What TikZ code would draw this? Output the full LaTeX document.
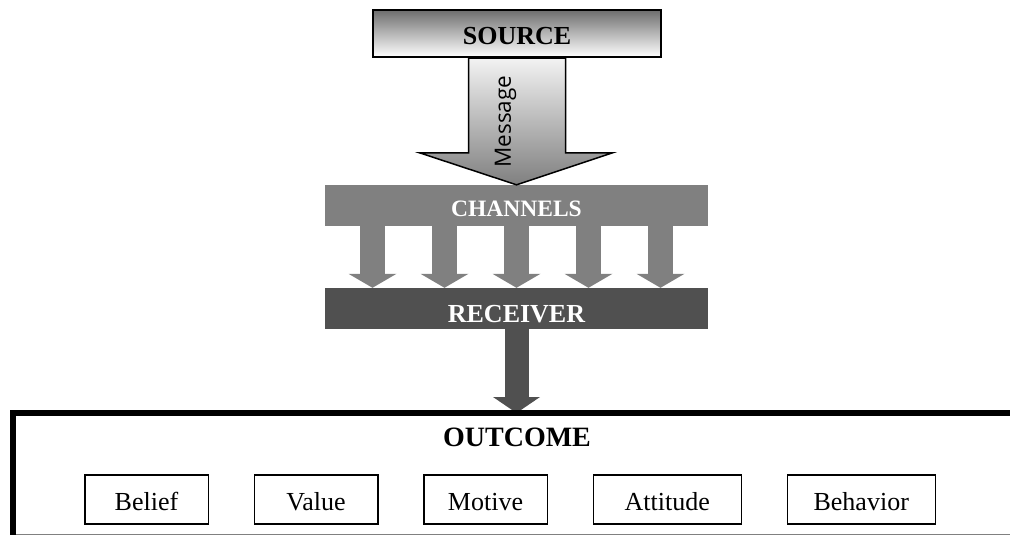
\documentclass[tikz,border=0pt]{standalone}
\usepackage{fontspec}
\setmainfont{Liberation Serif}
\newfontfamily\msgfont{Open Sans}
\usetikzlibrary{positioning, arrows.meta, calc}
\definecolor{srcgray}{HTML}{6E6E6E}
\definecolor{chgray}{HTML}{808080}
\definecolor{rcgray}{HTML}{505050}

\begin{document}
\begin{tikzpicture}[x=1pt, y=-1pt,
	stage/.style={rectangle, minimum width=383pt, minimum height=41pt, text=white, text depth=0pt},
	trait/.style={draw, line width=1.5pt, rectangle, minimum height=49pt, text height=22pt, text depth=0pt, font=\fontsize{26}{30}\selectfont},
	pipe/.style={line width=25pt, chgray, -{Triangle[length=14pt, width=48pt, line width=0pt]}}]
	\useasboundingbox (0,0) rectangle (1010,535);

	% Stages
	\node[draw, line width=2.5pt, rectangle, minimum width=288pt, minimum height=47pt, top color=srcgray, bottom color=white, text height=22pt, text depth=0pt, font=\fontsize{26}{30}\selectfont\bfseries] (source) at (517,33.5) {SOURCE};
	\node[stage, fill=chgray, text height=21pt, font=\fontsize{23.5}{28}\selectfont\bfseries] (channels) at (516.5,205.5) {CHANNELS};
	\node[stage, fill=rcgray, text height=27pt, font=\fontsize{26}{30}\selectfont\bfseries] (receiver) at (516.5,308.5) {RECEIVER};

	% Message arrow
	\draw[line width=1.5pt, top color=black!5, bottom color=black!50]
		([xshift=-48.5pt]source.south) |- ([xshift=-97pt, yshift=32pt]channels.north)
		-- (channels.north)
		-- ([xshift=96pt, yshift=32pt]channels.north) -| ([xshift=48.5pt]source.south) -- cycle;
	\node[rotate=90, font=\msgfont\fontsize{22.5}{26}\selectfont] (msg) at (505.5,121.5) {Message};

	% Channels to receiver
	\foreach \k in {-2,...,2}
		\draw[pipe] ([xshift=\k*72pt]channels.south) -- ([xshift=\k*72pt]receiver.north);

	% Outcome frame
	\coordinate (framenw) at (13,413);
	\draw[line width=24pt, rcgray, -{Triangle[length=16pt, width=47pt, line width=0pt]}] (receiver.south) -- (receiver.south |- framenw);
	\draw[line width=6pt] (1010,413) -- (framenw) -- (13,535);
	\draw[gray, line width=1pt] (16,534) -- (1010,534);
	\node[font=\fontsize{28}{32}\selectfont\bfseries] (outcome) at (517,437.5) {OUTCOME};

	% Outcome items
	\node[trait, minimum width=123.5pt] (belief) at (146.5,499.5) {Belief};
	\node[trait, minimum width=123.5pt, right=44.5pt of belief] (value) {Value};
	\node[trait, minimum width=123.5pt, right=44.5pt of value] (motive) {Motive};
	\node[trait, minimum width=148pt, right=44.5pt of motive] (attitude) {Attitude};
	\node[trait, minimum width=148pt, right=44.5pt of attitude] (behavior) {Behavior};
\end{tikzpicture}
\end{document}
